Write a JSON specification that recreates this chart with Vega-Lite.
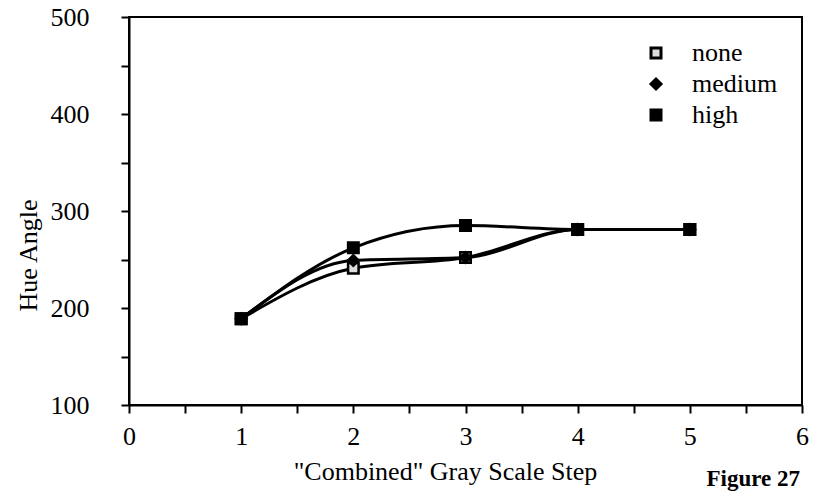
{
  "$schema": "https://vega.github.io/schema/vega-lite/v6.json",
  "width": 673,
  "height": 388,
  "autosize": {"type": "none"},
  "padding": {"left": 129, "top": 17, "right": 11, "bottom": 89},
  "background": "white",
  "config": {
    "font": "Liberation Serif",
    "view": {"stroke": "black", "strokeWidth": 2},
    "axis": {"grid": false, "domainColor": "black", "domainWidth": 2, "tickColor": "black", "tickWidth": 2, "labelColor": "black", "titleColor": "black", "labelFont": "Liberation Serif", "titleFont": "Liberation Serif", "titleFontWeight": "normal"}
  },
  "title": {"text": "Figure 27", "orient": "bottom", "anchor": "end", "frame": "group", "font": "Liberation Serif", "fontSize": 23, "fontWeight": "bold", "color": "black", "offset": -16, "dx": -2},
  "data": {"values": [
    {"step": 1, "hue": 189, "series": "none"},
    {"step": 2, "hue": 241, "series": "none"},
    {"step": 3, "hue": 252, "series": "none"},
    {"step": 4, "hue": 281, "series": "none"},
    {"step": 5, "hue": 281, "series": "none"},
    {"step": 1, "hue": 189, "series": "medium"},
    {"step": 2, "hue": 249, "series": "medium"},
    {"step": 3, "hue": 252, "series": "medium"},
    {"step": 4, "hue": 281, "series": "medium"},
    {"step": 5, "hue": 281, "series": "medium"},
    {"step": 1, "hue": 189, "series": "high"},
    {"step": 2, "hue": 262, "series": "high"},
    {"step": 3, "hue": 285, "series": "high"},
    {"step": 4, "hue": 281, "series": "high"},
    {"step": 5, "hue": 281, "series": "high"}
  ]},
  "encoding": {
    "x": {"field": "step", "type": "quantitative", "scale": {"domain": [0, 6], "nice": false},
      "axis": {"values": [0, 0.5, 1, 1.5, 2, 2.5, 3, 3.5, 4, 4.5, 5, 5.5, 6], "labelExpr": "datum.value % 1 == 0 ? format(datum.value, 'd') : ''", "labelFontSize": 26, "tickSize": 8, "labelPadding": 10, "labelFlush": false, "labelOverlap": false,
        "title": "\"Combined\" Gray Scale Step", "titleFontSize": 26, "titleX": 316, "titleY": 74, "titleBaseline": "alphabetic", "titleAlign": "center"}},
    "y": {"field": "hue", "type": "quantitative", "scale": {"domain": [100, 500], "nice": false, "zero": false},
      "axis": {"values": [100, 150, 200, 250, 300, 350, 400, 450, 500], "labelExpr": "datum.value % 100 == 0 ? datum.label : ''", "labelFontSize": 26, "tickSize": 8, "labelPadding": 32, "labelFlush": false, "labelOverlap": false,
        "title": "Hue Angle", "titleFontSize": 26, "titleX": -93, "titleY": 238, "titleAngle": -90, "titleBaseline": "alphabetic", "titleAlign": "center"}}
  },
  "layer": [
    {"mark": {"type": "line", "interpolate": "monotone", "color": "black", "strokeWidth": 3},
      "encoding": {"detail": {"field": "series", "type": "nominal"}}},
    {"mark": {"type": "point", "filled": true, "stroke": "black", "strokeWidth": 2.5, "opacity": 1, "size": 110},
      "encoding": {
        "shape": {"field": "series", "type": "nominal", "scale": {"domain": ["none", "medium", "high"], "range": ["square", "diamond", "square"]},
          "legend": {"title": null, "orient": "none", "legendX": 514, "legendY": 23, "labelFontSize": 26, "labelFont": "Liberation Serif", "labelColor": "black", "labelOffset": 23, "rowPadding": 5, "symbolSize": 100, "symbolStrokeWidth": 3}},
        "fill": {"field": "series", "type": "nominal", "scale": {"domain": ["none", "medium", "high"], "range": ["#dddddd", "black", "black"]},
          "legend": {"title": null, "orient": "none", "legendX": 514, "legendY": 23, "labelFontSize": 26, "labelFont": "Liberation Serif", "labelColor": "black", "labelOffset": 23, "rowPadding": 5, "symbolSize": 100, "symbolStrokeWidth": 3}}
      }}
  ]
}
